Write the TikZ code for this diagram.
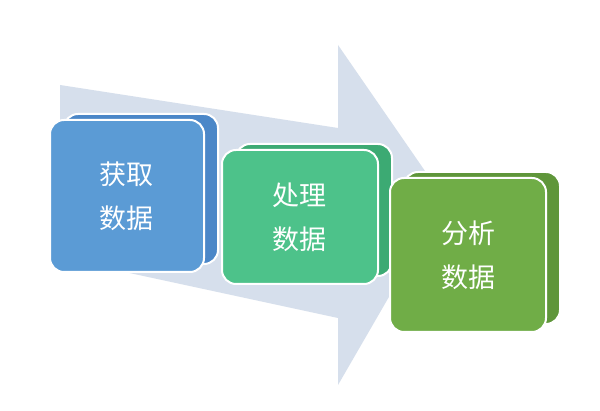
\documentclass[tikz,border=0pt]{standalone}
\usepackage{fontspec}
\newfontfamily\cjk{Noto Sans CJK SC}
\begin{document}
\begin{tikzpicture}[x=1pt,y=-1pt,
  face/.style={draw=white,line width=2pt,rounded corners=14pt},
  lbl/.style={text=white,font=\cjk\fontsize{27}{44}\selectfont,align=center}]
\useasboundingbox (0,0) rectangle (600,411);
\fill[fill=white] (0,0) rectangle (600,411);
\fill[fill={rgb,255:red,214;green,223;blue,236}] (60,85) -- (338,128) -- (338,45) -- (445,200) -- (338,385) -- (338,318) -- (60,258) -- cycle;
% box 1
\filldraw[face,fill={rgb,255:red,75;green,135;blue,200}] (64,114) rectangle (218,264);
\filldraw[face,fill={rgb,255:red,91;green,155;blue,213}] (50,120) rectangle (204,272);
\node[lbl] (b1) at (126,196) {获取\\数据};
% box 2
\filldraw[face,fill={rgb,255:red,60;green,170;blue,115}] (236,144) rectangle (392,276);
\filldraw[face,fill={rgb,255:red,77;green,194;blue,138}] (222,150) rectangle (378,284);
\node[lbl] (b2) at (299,217) {处理\\数据};
% box 3
\filldraw[face,fill={rgb,255:red,95;green,150;blue,58}] (404,172) rectangle (560,324);
\filldraw[face,fill={rgb,255:red,112;green,173;blue,71}] (390,178) rectangle (546,332);
\node[lbl] (b3) at (468,255) {分析\\数据};
\end{tikzpicture}
\end{document}
